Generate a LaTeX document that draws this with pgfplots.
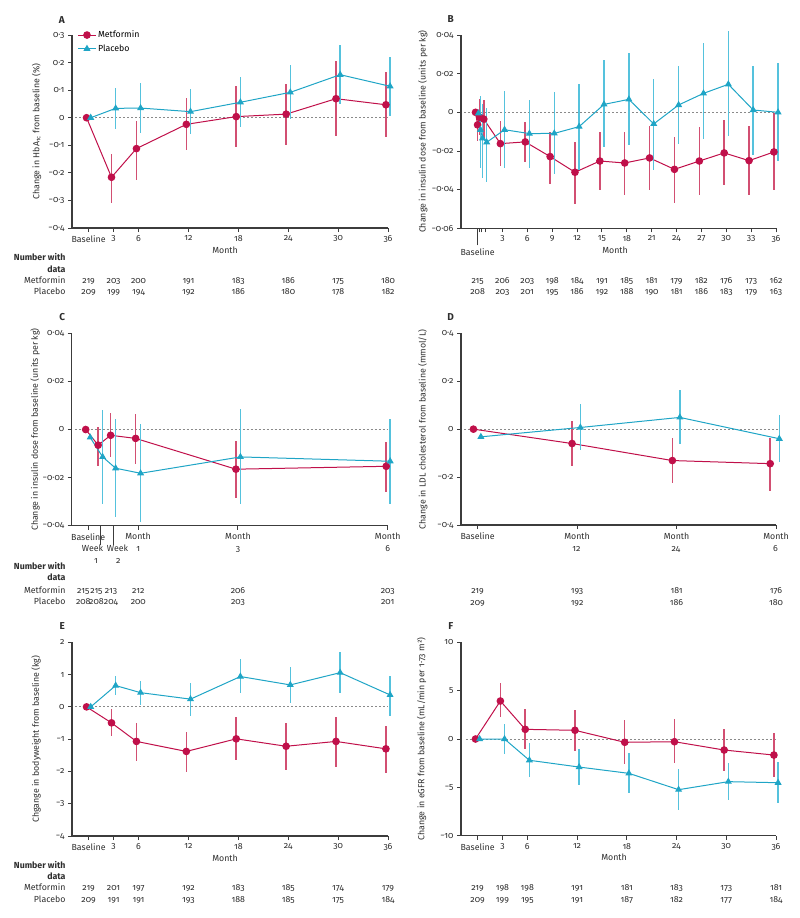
\documentclass[border=0pt]{standalone}
\usepackage{fontspec}
\setmainfont{Fira Sans}[Numbers=OldStyle]
\usepackage{pgfplots}
\usepackage{pgfplotstable}
\pgfplotsset{compat=1.18}

\definecolor{met}{HTML}{C0104A}
\definecolor{metbar}{HTML}{D24F72}
\definecolor{pla}{HTML}{1FA5C6}
\definecolor{plabar}{HTML}{55C2DD}
\definecolor{axisgray}{HTML}{3C3C3C}
\definecolor{tgray}{HTML}{2E2E2E}
\definecolor{zgray}{HTML}{8A8A8A}
\newcommand{\tf}{\fontsize{8.8}{12.3}\selectfont}

\pgfplotsset{
  panel/.style={
    scale only axis, clip=false, scaled y ticks=false, scaled x ticks=false,
    axis lines=left, axis line style={-, draw=axisgray, line width=1.1pt},
    tick align=outside, major tick length=4pt, minor tick length=4pt,
    tick style={draw=axisgray, line width=0.9pt},
    tick label style={font=\tf, text=tgray},
    label style={font=\tf, text=tgray},
    ylabel style={anchor=center},
    legend style={font=\tf},
  },
  metp/.style={color=met, line width=1pt, mark=*, mark size=3.3pt,
    mark options={solid, fill=met, draw=met},
    error bars/.cd, y dir=both, y explicit, error mark=none,
    error bar style={color=metbar, line width=1.5pt}},
  plap/.style={color=pla, line width=1pt, mark=triangle*, mark size=3.1pt,
    mark options={solid, fill=pla, draw=pla},
    error bars/.cd, y dir=both, y explicit, error mark=none,
    error bar style={color=plabar, line width=1.5pt}},
  zeroline/.style={forget plot, draw=zgray, line width=0.8pt, dash pattern=on 2pt off 2pt},
}
\pgfkeys{/pgfplots/table/errtab/.style={x=x, y=y, y error plus expr={\thisrow{hi}-\thisrow{y}}, y error minus expr={\thisrow{y}-\thisrow{lo}}}}
\tikzset{
  num/.style={font=\tf, text=tgray, inner sep=0pt, anchor=base},
  rlab/.style={font=\tf, text=tgray, inner sep=0pt, anchor=base east},
  blab/.style={font=\tf\bfseries, text=tgray, inner sep=0pt, anchor=base east},
  plet/.style={font=\fontsize{10}{12}\selectfont\bfseries, text=tgray, inner sep=0pt, anchor=center},
}

% ---------- data: x y lo hi ----------
\pgfplotstableread{
x y lo hi
-0.25 0 0 0
2.75 -0.216 -0.31 -0.133
5.75 -0.112 -0.225 -0.012
11.75 -0.024 -0.118 0.071
17.75 0.004 -0.108 0.115
23.75 0.013 -0.098 0.124
29.75 0.069 -0.066 0.207
35.75 0.047 -0.071 0.167
}\Amet
\pgfplotstableread{
x y lo hi
0.25 0 0 0
3.25 0.034 -0.041 0.108
6.25 0.035 -0.056 0.125
12.25 0.022 -0.059 0.105
18.25 0.056 -0.035 0.148
24.25 0.092 -0.005 0.19
30.25 0.156 0.051 0.262
36.25 0.114 0.006 0.22
}\Apla
\pgfplotstableread{
x y lo hi
-0.25 0 0 0
0 -0.0065 -0.015 0.001
0.25 -0.0025 -0.0115 0.007
0.75 -0.0035 -0.0143 0.0065
2.75 -0.0162 -0.028 -0.0045
5.75 -0.0153 -0.0259 -0.005
8.75 -0.0229 -0.037 -0.010
11.75 -0.031 -0.0473 -0.0153
14.75 -0.0252 -0.040 -0.010
17.75 -0.0262 -0.0426 -0.010
20.75 -0.0236 -0.040 -0.007
23.75 -0.0295 -0.0469 -0.0126
26.75 -0.0252 -0.0426 -0.0074
29.75 -0.021 -0.0375 -0.004
32.75 -0.025 -0.0426 -0.007
35.75 -0.0205 -0.040 -0.0005
}\Bmet
\pgfplotstableread{
x y lo hi
0.1 -0.0005 -0.0005 -0.0005
0.35 -0.009 -0.029 0.0082
0.6 -0.0134 -0.034 0.0043
1.1 -0.0155 -0.036 0.0024
3.25 -0.009 -0.029 0.011
6.25 -0.011 -0.029 0.0066
9.25 -0.0109 -0.032 0.0105
12.25 -0.0074 -0.030 0.0145
15.25 0.0041 -0.0178 0.027
18.25 0.0067 -0.017 0.0305
21.25 -0.006 -0.030 0.017
24.25 0.0038 -0.0164 0.024
27.25 0.0098 -0.0138 0.0357
30.25 0.0145 -0.0122 0.042
33.25 0.0012 -0.022 0.024
36.25 0.0 -0.025 0.0253
}\Bpla
\pgfplotstableread{
x y lo hi
-0.05 0 0 0
0.2 -0.0065 -0.015 0.001
0.45 -0.0024 -0.0115 0.007
0.95 -0.0037 -0.0143 0.0065
2.96 -0.0165 -0.0285 -0.0046
5.97 -0.0153 -0.0258 -0.005
}\Cmet
\pgfplotstableread{
x y lo hi
0.04 -0.0033 -0.0033 -0.0033
0.29 -0.0114 -0.031 0.0082
0.55 -0.0161 -0.0365 0.0043
1.05 -0.0182 -0.0386 0.0024
3.05 -0.0114 -0.031 0.0086
6.05 -0.0132 -0.031 0.0044
}\Cpla
\pgfplotstableread{
x y lo hi
-0.5 0 0 0
11.4 -0.06 -0.154 0.035
23.5 -0.131 -0.226 -0.035
35.3 -0.144 -0.257 -0.036
}\Dmet
\pgfplotstableread{
x y lo hi
0.4 -0.032 -0.032 -0.032
12.4 0.007 -0.0875 0.107
24.4 0.049 -0.0625 0.162
36.4 -0.04 -0.139 0.057
}\Dpla
\pgfplotstableread{
x y lo hi
-0.25 0 0 0
2.75 -0.495 -0.9 -0.07
5.75 -1.07 -1.67 -0.505
11.75 -1.38 -2.02 -0.79
17.75 -0.99 -1.66 -0.32
23.75 -1.22 -1.95 -0.505
29.75 -1.07 -1.85 -0.30
35.75 -1.30 -2.05 -0.58
}\Emet
\pgfplotstableread{
x y lo hi
0.25 0 0 0
3.25 0.66 0.37 0.96
6.25 0.44 0.06 0.81
12.25 0.24 -0.28 0.73
18.25 0.94 0.44 1.48
24.25 0.68 0.12 1.23
30.25 1.06 0.43 1.69
36.25 0.37 -0.28 0.97
}\Epla
\pgfplotstableread{
x y lo hi
-0.25 0 0 0
2.75 3.93 2.31 5.76
5.75 1.0 -1.07 3.07
11.75 0.9 -1.24 3.0
17.75 -0.34 -2.62 1.97
23.75 -0.28 -2.45 2.03
29.75 -1.14 -3.28 1.03
35.75 -1.66 -3.9 0.59
}\Fmet
\pgfplotstableread{
x y lo hi
0.25 0 0 0
3.25 0 -1.59 1.55
6.25 -2.2 -3.9 -0.45
12.25 -2.9 -4.79 -1.07
18.25 -3.55 -5.6 -1.48
24.25 -5.24 -7.34 -3.14
30.25 -4.41 -6.3 -2.45
36.25 -4.52 -6.65 -2.4
}\Fpla

\begin{document}
\begin{tikzpicture}
\path[use as bounding box] (0,0) rectangle (800pt,-918pt);

% ================= A =================
\begin{axis}[panel, at={(72pt,-228pt)}, anchor=south west, width=316pt, height=193pt,
  xmin=-2, xmax=36, ymin=-0.4, ymax=0.3,
  xtick={0,3,6,12,18,24,30,36}, xticklabels={Baseline,3,6,12,18,24,30,36},
  ytick={-0.4,-0.3,-0.2,-0.1,0,0.1,0.2,0.3},
  yticklabels={−0·4,−0·3,−0·2,−0·1,0,0·1,0·2,0·3},
  ylabel={Change in HbA\textsubscript{1c} from baseline (\%)},
  ylabel style={at={(axis description cs:-0.112,0.5)}},
  legend style={draw=none, fill=none, at={(rel axis cs:0.015,1.038)}, anchor=north west, row sep=1.5pt, inner sep=1pt},
  legend cell align=left]
\addplot[zeroline] coordinates {(-1.6,0) (36,0)};
\addplot[metp] table[errtab] {\Amet};
\addlegendentry{Metformin}
\addplot[plap] table[errtab] {\Apla};
\addlegendentry{Placebo}
\end{axis}

% ================= B =================
\begin{axis}[panel, at={(461pt,-228.3pt)}, anchor=south west, width=315pt, height=193.3pt,
  xmin=-2, xmax=36, ymin=-0.06, ymax=0.04,
  xtick={3,6,...,36}, xticklabels={3,6,9,12,15,18,21,24,27,30,33,36},
  minor xtick={0.25,0.5,1},
  extra x ticks={0}, extra x tick labels={Baseline},
  extra x tick style={major tick length=17pt},
  ytick={-0.06,-0.04,-0.02,0,0.02,0.04},
  yticklabels={−0·06,−0·04,−0·02,0,0·02,0·04},
  ylabel={Change in insulin dose from baseline (units per kg)},
  ylabel style={at={(axis description cs:-0.121,0.5)}}]
\addplot[zeroline] coordinates {(-1.6,0) (36.3,0)};
\addplot[metp] table[errtab] {\Bmet};
\addplot[plap] table[errtab] {\Bpla};
\end{axis}

% ================= C =================
\begin{axis}[panel, at={(71.7pt,-525.7pt)}, anchor=south west, width=316pt, height=192.4pt,
  xmin=-0.33, xmax=6, ymin=-0.04, ymax=0.04,
  xtick={0,1,3,6}, xticklabels={Baseline,Month,Month,Month},
  extra x ticks={0.25,0.5}, extra x tick labels={},
  extra x tick style={major tick length=19pt},
  ytick={-0.04,-0.02,0,0.02,0.04},
  yticklabels={−0·04,−0·02,0,0·02,0·04},
  ylabel={Change in insulin dose from baseline (units per kg)},
  ylabel style={at={(axis description cs:-0.116,0.5)}}]
\addplot[zeroline] coordinates {(-0.27,0) (6,0)};
\addplot[metp] table[errtab] {\Cmet};
\addplot[plap] table[errtab] {\Cpla};
\end{axis}

% ================= D =================
\begin{axis}[panel, at={(461pt,-525pt)}, anchor=south west, width=315pt, height=191.7pt,
  xmin=-2, xmax=36, ymin=-0.4, ymax=0.4,
  xtick={0,12,24,36}, xticklabels={Baseline,Month,Month,Month},
  ytick={-0.4,-0.2,0,0.2,0.4},
  yticklabels={−0·4,−0·2,0,0·2,0·4},
  ylabel={Change in LDL cholesterol from baseline (mmol/L)},
  ylabel style={at={(axis description cs:-0.121,0.5)}}]
\addplot[zeroline] coordinates {(-1.6,0) (36.3,0)};
\addplot[metp] table[errtab] {\Dmet};
\addplot[plap] table[errtab] {\Dpla};
\end{axis}

% ================= E =================
\begin{axis}[panel, at={(72pt,-836pt)}, anchor=south west, width=316pt, height=193.7pt,
  xmin=-2, xmax=36, ymin=-4, ymax=2,
  xtick={0,3,6,12,18,24,30,36}, xticklabels={Baseline,3,6,12,18,24,30,36},
  ytick={-4,-3,-2,-1,0,1,2},
  yticklabels={−4,−3,−2,−1,0,1,2},
  ylabel={Chgange in bodyweight from baseline (kg)},
  ylabel style={at={(axis description cs:-0.114,0.5)}}]
\addplot[zeroline] coordinates {(-1.6,0) (36,0)};
\addplot[metp] table[errtab] {\Emet};
\addplot[plap] table[errtab] {\Epla};
\end{axis}

% ================= F =================
\begin{axis}[panel, at={(461pt,-835.7pt)}, anchor=south west, width=315pt, height=193.4pt,
  xmin=-2, xmax=36, ymin=-10, ymax=10,
  xtick={0,3,6,12,18,24,30,36}, xticklabels={Baseline,3,6,12,18,24,30,36},
  ytick={-10,-5,0,5,10},
  yticklabels={−10,−5,0,5,10},
  ylabel={Change in eGFR from baseline (mL/min per 1·73 m²)},
  ylabel style={at={(axis description cs:-0.125,0.5)}}]
\addplot[zeroline] coordinates {(-1.4,0) (36,0)};
\addplot[metp] table[errtab] {\Fmet};
\addplot[plap] table[errtab] {\Fpla};
\end{axis}

% ---------- panel letters ----------
\node[plet] at (61.7pt,-20pt) {A};
\node[plet] at (450.7pt,-19pt) {B};
\node[plet] at (62.3pt,-316.7pt) {C};
\node[plet] at (450.7pt,-316.7pt) {D};
\node[plet] at (62.3pt,-626pt) {E};
\node[plet] at (450.7pt,-626pt) {F};

% ---------- Month labels ----------
\node[num] at (225pt,-253pt) {Month};
\node[num] at (615pt,-253.7pt) {Month};
\node[num] at (225pt,-861.3pt) {Month};
\node[num] at (614pt,-860.3pt) {Month};

% ---------- second lines of C and D tick labels ----------
\node[num] at (138.3pt,-551.3pt) {1};
\node[num] at (238pt,-551.3pt) {3};
\node[num] at (387.7pt,-551.3pt) {6};
\node[num] at (576.5pt,-551.3pt) {12};
\node[num] at (676pt,-551.3pt) {24};
\node[num] at (775.5pt,-551.3pt) {6};

% ---------- Week labels (C) ----------
\node[num] at (92.5pt,-551.3pt) {Week};
\node[num] at (96pt,-563pt) {1};
\node[num] at (117.5pt,-551.3pt) {Week};
\node[num] at (118.3pt,-563pt) {2};

% ---------- Number with data: A ----------
\node[blab] at (65.7pt,-260.3pt) {Number with};
\node[blab] at (65.7pt,-272pt) {data};
\node[rlab] at (65.7pt,-283pt) {Metformin};
\node[rlab] at (65.7pt,-294.7pt) {Placebo};
\foreach \m/\a/\b in {0/219/209,3/203/199,6/200/194,12/191/192,18/183/186,24/186/180,30/175/178,36/180/182}{
  \pgfmathsetmacro\xx{72+(\m+2)*316/38}
  \node[num] at (\xx pt,-283pt) {\a};
  \node[num] at (\xx pt,-294.7pt) {\b};
}
% B
\foreach \m/\a/\b in {0/215/208,3/206/203,6/203/201,9/198/195,12/184/186,15/191/192,18/185/188,21/181/190,24/179/181,27/182/186,30/176/183,33/173/179,36/162/163}{
  \pgfmathsetmacro\xx{461+(\m+2)*315/38}
  \node[num] at (\xx pt,-283pt) {\a};
  \node[num] at (\xx pt,-294.7pt) {\b};
}
% C
\node[blab] at (65.7pt,-569pt) {Number with};
\node[blab] at (65.7pt,-580.3pt) {data};
\node[rlab] at (65.7pt,-593pt) {Metformin};
\node[rlab] at (65.7pt,-604.7pt) {Placebo};
\foreach \xx/\a/\b in {83.3/215/208,96.5/215/208,111/213/204,138.3/212/200,238/206/203,387.7/203/201}{
  \node[num] at (\xx pt,-593pt) {\a};
  \node[num] at (\xx pt,-604.7pt) {\b};
}
% D
\foreach \m/\a/\b in {0/219/209,12/193/192,24/181/186,36/176/180}{
  \pgfmathsetmacro\xx{461+(\m+2)*315/38}
  \node[num] at (\xx pt,-593pt) {\a};
  \node[num] at (\xx pt,-605.7pt) {\b};
}
% E
\node[blab] at (65.7pt,-868pt) {Number with};
\node[blab] at (65.7pt,-879.7pt) {data};
\node[rlab] at (65.7pt,-890.7pt) {Metformin};
\node[rlab] at (65.7pt,-902pt) {Placebo};
\foreach \m/\a/\b in {0/219/209,3/201/191,6/197/191,12/192/193,18/183/188,24/185/185,30/174/175,36/179/184}{
  \pgfmathsetmacro\xx{72+(\m+2)*316/38}
  \node[num] at (\xx pt,-890.7pt) {\a};
  \node[num] at (\xx pt,-902pt) {\b};
}
% F
\foreach \m/\a/\b in {0/219/209,3/198/199,6/198/195,12/191/191,18/181/187,24/183/182,30/173/177,36/181/184}{
  \pgfmathsetmacro\xx{461+(\m+2)*315/38}
  \node[num] at (\xx pt,-890.7pt) {\a};
  \node[num] at (\xx pt,-902pt) {\b};
}
\end{tikzpicture}
\end{document}
